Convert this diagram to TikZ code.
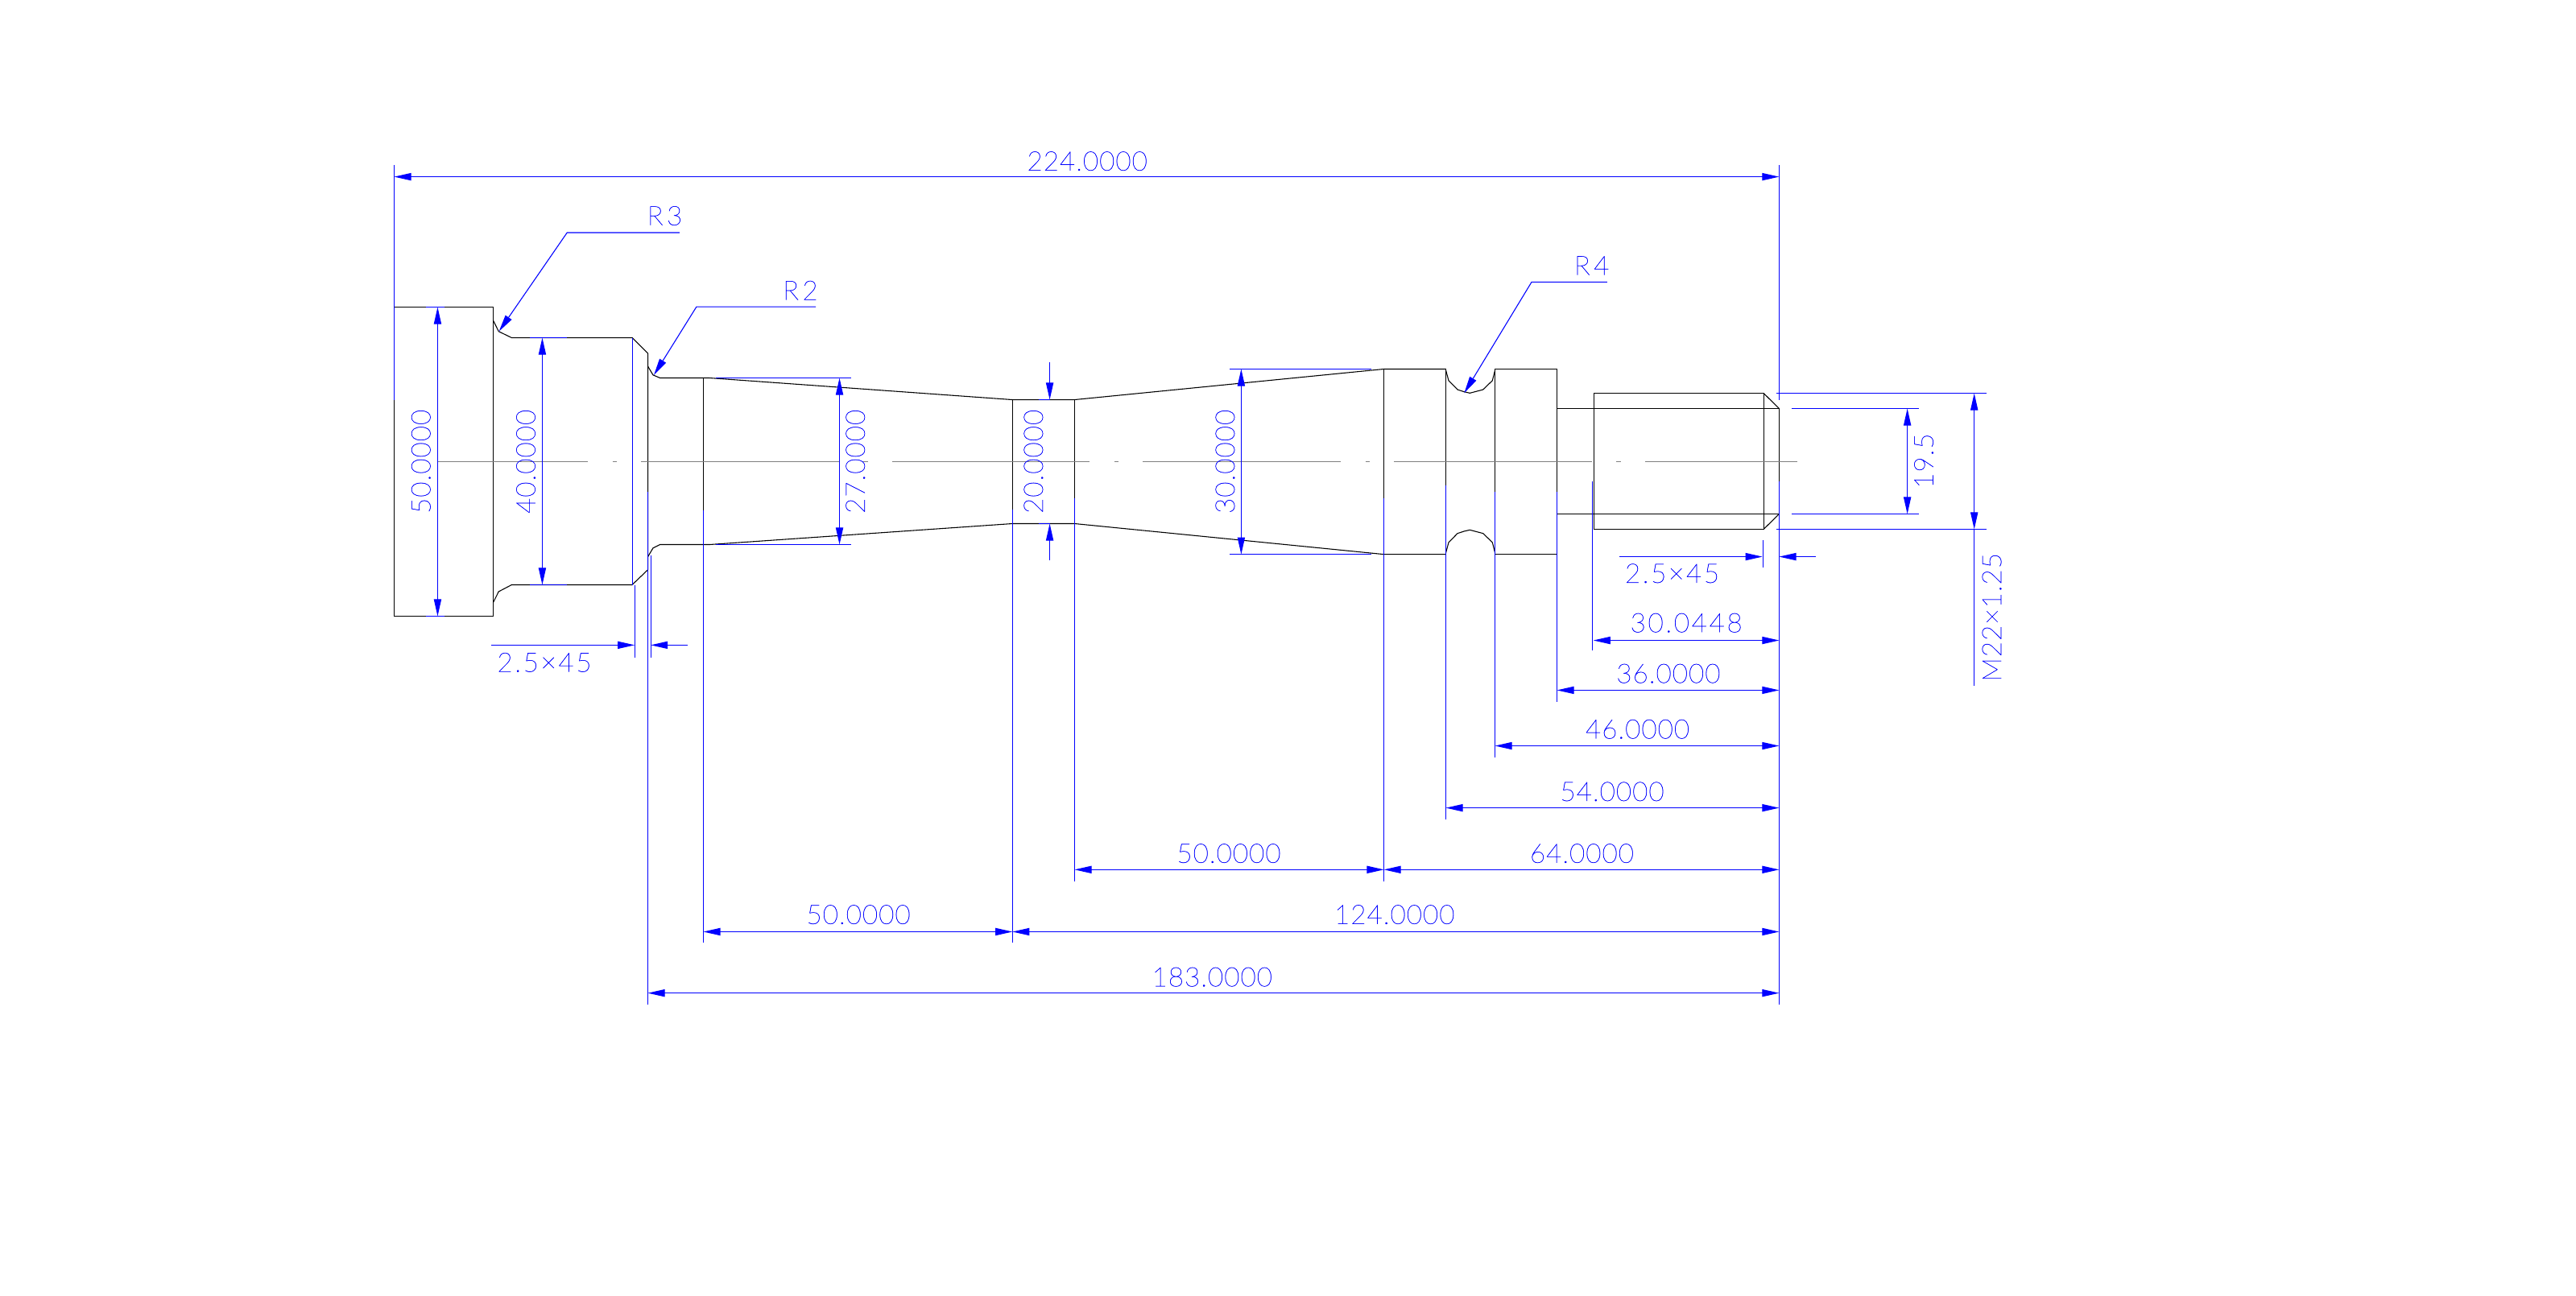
\documentclass[tikz,border=0pt]{standalone}
\usepackage{fontspec}
\setmainfont[FakeBold=0.8]{Lato Thin}
\usetikzlibrary{arrows.meta}
\definecolor{dimblue}{RGB}{0,0,255}
\definecolor{axisgray}{RGB}{128,128,128}

\begin{document}
\begin{tikzpicture}[x=1mm, y=1mm, line width=0.4pt]
	% Styles for the drawing layers
	\tikzset{dimtip/.tip={Triangle[length=2.75mm, width=1.2mm]}}
	\tikzset{partline/.style={draw=black, line join=miter}}
	\tikzset{extline/.style={draw=dimblue}}
	\tikzset{dimline/.style={draw=dimblue, {dimtip}-{dimtip}}}
	\tikzset{halfline/.style={draw=dimblue, -{dimtip}}}
	\tikzset{axisline/.style={draw=axisgray, dash pattern=on 32mm off 4mm on 0.7mm off 3.9mm, dash phase=7.7mm}}
	\tikzset{dimlabel/.style={text=dimblue, inner sep=0pt, font=\fontsize{12.3}{14}\selectfont\addfontfeature{LetterSpace=3}}}
	\tikzset{widelabel/.style={dimlabel, font=\fontsize{12.3}{14}\selectfont\addfontfeature{LetterSpace=8}}}
	\tikzset{radiuslabel/.style={dimlabel, font=\fontsize{12.3}{14}\selectfont\addfontfeature{LetterSpace=14}}}

	\useasboundingbox (-63.75,-134.89) rectangle (352.89,74.67);

	% Shaft outline
	\draw[partline] (0,-25.03) rectangle (16.03,24.98);
	\draw[partline] (16.03,22.8) -- (16.9,21.05) -- (19,20.03) -- (38.5,20.03) -- (41.04,17.5) -- (41.04,-17.5) -- (38.5,-19.95) -- (19,-19.95) -- (16.9,-21.05) -- (16.03,-22.8);
	\draw[partline] (41.04,15.4) -- (41.87,14) -- (43,13.52) -- (51,13.52) -- (100,10) -- (110.05,10) -- (160.08,14.96) -- (170.1,14.96);
	\draw[partline] (41.04,-15.4) -- (41.87,-14) -- (43,-13.44) -- (51,-13.44) -- (100,-10.05) -- (110.05,-10.05) -- (160.08,-15.02) -- (170.1,-15.02);
	\draw[partline] (50,13.52) -- (50,-13.44);
	\draw[partline] (100,10) -- (100,-10.05);
	\draw[partline] (110.05,10) -- (110.05,-10.05);
	\draw[partline] (160.08,14.96) -- (160.08,-15.02);

	% Groove and collar
	\draw[partline] (170.1,14.96) -- (170.1,-15.02);
	\draw[partline] (170.1,14.76) -- (170.55,13.1) -- (171.99,11.63) -- (173.07,11.28) -- (173.98,11.07) -- (176.11,11.63) -- (177.63,13.1) -- (178.05,14.76);
	\draw[partline] (170.1,-14.76) -- (170.55,-13.1) -- (171.99,-11.63) -- (173.07,-11.28) -- (173.98,-11.07) -- (176.11,-11.63) -- (177.63,-13.1) -- (178.05,-14.76);
	\draw[partline] (178.05,14.96) rectangle (188.07,-15.02);

	% Thread end
	\draw[partline] (194.08,11.05) rectangle (221.5,-10.96);
	\draw[partline] (188.07,8.57) -- (224,8.57) -- (224,-8.49) -- (188.07,-8.49);
	\draw[partline] (221.5,11.05) -- (224,8.57);
	\draw[partline] (221.5,-10.96) -- (224,-8.49);

	% Centre line
	\draw[axisline] (7,0) -- (227,0);

	% Extension lines
	\draw[extline] (0,48) -- (0,10);
	\draw[extline] (224,48) -- (224,10);
	\draw[extline] (38.5,20.03) -- (38.5,-19.95);
	\draw[extline] (38.93,-19.95) -- (38.93,-31.7);
	\draw[extline] (41.5,-15.2) -- (41.5,-31.7);
	\draw[extline] (41.04,-4.9) -- (41.04,-87.9);
	\draw[extline] (50,-7.9) -- (50,-77.9);
	\draw[extline] (100,-7.8) -- (100,-77.9);
	\draw[extline] (110.05,-5.9) -- (110.05,-67.95);
	\draw[extline] (160.08,-5.9) -- (160.08,-67.95);
	\draw[extline] (170.1,-3.9) -- (170.1,-57.9);
	\draw[extline] (178.05,-4.9) -- (178.05,-47.85);
	\draw[extline] (188.07,-4.9) -- (188.07,-38.86);
	\draw[extline] (193.85,-3.26) -- (193.85,-30.6);
	\draw[extline] (224,-3.26) -- (224,-87.9);
	\draw[extline] (221.4,-12.7) -- (221.4,-17.2);
	\draw[extline] (5.1,24.98) -- (8.1,24.98);
	\draw[extline] (5.1,-25.03) -- (8.1,-25.03);
	\draw[extline] (22,20.03) -- (28,20.03);
	\draw[extline] (22,-19.95) -- (28,-19.95);
	\draw[extline] (52,13.52) -- (73.85,13.52);
	\draw[extline] (52,-13.44) -- (73.85,-13.44);
	\draw[extline] (104.2,10) -- (106.03,10);
	\draw[extline] (104.2,-10.05) -- (106.03,-10.05);
	\draw[extline] (135.1,14.96) -- (158,14.96);
	\draw[extline] (135.1,-15.02) -- (158,-15.02);
	\draw[extline] (223.55,11.05) -- (257.6,11.05);
	\draw[extline] (223.55,-10.96) -- (257.6,-10.96);
	\draw[extline] (226,8.57) -- (246.6,8.57);
	\draw[extline] (226,-8.49) -- (246.6,-8.49);
	\draw[extline] (255.56,-10.96) -- (255.56,-36.3);

	% Horizontal dimensions
	\draw[dimline] (0,46.07) -- (224,46.07);
	\node[dimlabel] (len224) at (112.1,48.6) {224.0000};
	\draw[dimline] (193.95,-28.94) -- (224,-28.94);
	\node[widelabel] (len30) at (209,-26.1) {30.0448};
	\draw[dimline] (188.07,-37) -- (224,-37);
	\node[dimlabel] (len36) at (206.1,-34.3) {36.0000};
	\draw[dimline] (178.05,-46) -- (224,-46);
	\node[dimlabel] (len46) at (201.1,-43.3) {46.0000};
	\draw[dimline] (170.1,-56.04) -- (224,-56.04);
	\node[dimlabel] (len54) at (197,-53.4) {54.0000};
	\draw[dimline] (160.08,-66.03) -- (224,-66.03);
	\node[dimlabel] (len64) at (192.1,-63.4) {64.0000};
	\draw[dimline] (110.05,-66.03) -- (160.08,-66.03);
	\node[dimlabel] (lenright) at (135,-63.4) {50.0000};
	\draw[dimline] (100,-76.08) -- (224,-76.08);
	\node[dimlabel] (len124) at (161.8,-73.3) {124.0000};
	\draw[dimline] (50,-76.08) -- (100,-76.08);
	\node[dimlabel] (lenleft) at (75.1,-73.3) {50.0000};
	\draw[dimline] (41.04,-86) -- (224,-86);
	\node[dimlabel] (len183) at (132.3,-83.4) {183.0000};

	% Chamfer callouts
	\draw[halfline] (15.7,-29.7) -- (38.9,-29.7);
	\draw[halfline] (47.5,-29.7) -- (41.5,-29.7);
	\node[widelabel] (chamferleft) at (24.3,-32.5) {2.5×45};
	\draw[halfline] (198.2,-15.4) -- (221.3,-15.4);
	\draw[halfline] (229.9,-15.4) -- (224,-15.4);
	\node[widelabel] (chamferright) at (206.7,-18.1) {2.5×45};

	% Diameters
	\draw[dimline] (7.03,24.98) -- (7.03,-25.03);
	\node[dimlabel, rotate=90] (dia50) at (4.34,0) {50.0000};
	\draw[dimline] (23.96,20.03) -- (23.96,-19.95);
	\node[dimlabel, rotate=90] (dia40) at (21.3,0) {40.0000};
	\draw[dimline] (72.03,13.52) -- (72.03,-13.44);
	\node[dimlabel, rotate=90] (dia27) at (74.6,0) {27.0000};
	\draw[halfline] (106.03,16) -- (106.03,10);
	\draw[halfline] (106.03,-16) -- (106.03,-10.05);
	\node[dimlabel, rotate=90] (dia20) at (103.4,0) {20.0000};
	\draw[dimline] (137,14.96) -- (137,-15.02);
	\node[dimlabel, rotate=90] (dia30) at (134.4,0) {30.0000};
	\draw[dimline] (244.74,8.57) -- (244.74,-8.49);
	\node[dimlabel, rotate=90] (dia19) at (247.4,0.1) {19.5};
	\draw[dimline] (255.56,11.05) -- (255.56,-10.96);
	\node[dimlabel, rotate=90] (thread) at (258.4,-25.2) {M22×1.25};

	% Radius leaders
	\draw[extline, {dimtip}-] (16.95,21.05) -- (27.97,37.03) -- (46.16,37.03);
	\node[radiuslabel] (radius3) at (43.77,39.76) {R3};
	\draw[extline, {dimtip}-] (42,13.97) -- (48.9,25.04) -- (68.2,25.04);
	\node[radiuslabel] (radius2) at (65.7,27.7) {R2};
	\draw[extline, {dimtip}-] (173.07,11.07) -- (183.97,29.04) -- (196.2,29.04);
	\node[radiuslabel] (radius4) at (193.7,31.7) {R4};
\end{tikzpicture}
\end{document}
